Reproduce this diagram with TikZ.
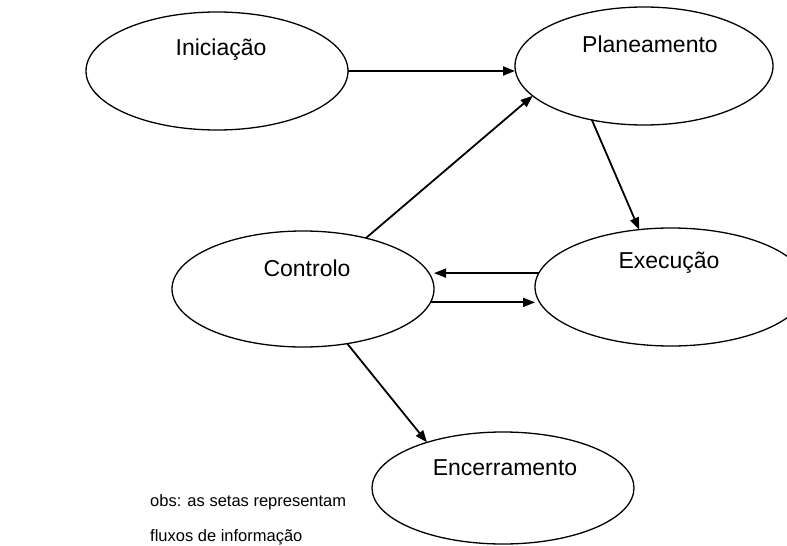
\documentclass[tikz,border=0pt]{standalone}
\usepackage{fontspec}
\setmainfont{Liberation Sans}
\usetikzlibrary{arrows.meta,shapes.geometric}
\begin{document}
\begin{tikzpicture}[x=1pt,y=-1pt,
  phase/.style={draw=black,line width=1.3pt,ellipse,inner sep=0pt,outer sep=0pt},
  lbl/.style={font=\fontsize{23}{27}\selectfont,inner sep=0pt,anchor=center},
  flow/.style={line width=1.8pt,-{Triangle[length=12pt,width=9pt]}},
  note/.style={font=\fontsize{16.5}{19}\selectfont,inner sep=0pt,anchor=base west}]
\useasboundingbox (0,0) rectangle (787,546);
\clip (0,0) rectangle (787,546);
\node[phase,minimum width=262pt,minimum height=118pt] (ini) at (217,71) {};
\node[phase,minimum width=258pt,minimum height=118pt] (plan) at (644,66) {};
\node[phase,minimum width=262pt,minimum height=116pt] (ctrl) at (303,289) {};
\node[phase,minimum width=272pt,minimum height=118pt] (exe) at (671,287) {};
\node[phase,minimum width=262pt,minimum height=112pt] (enc) at (503,488) {};
\node[lbl] (tini) at (221,50) {Iniciação};
\node[lbl] (tplan) at (650,44) {Planeamento};
\node[lbl] (tctrl) at (307,268) {Controlo};
\node[lbl] (texe) at (669,263) {Execução};
\node[lbl] (tenc) at (505,468) {Encerramento};
\node[note] (obs1) at (150,506) {obs: as setas representam};
\node[note] (obs2) at (150,541) {fluxos de informação};
\draw[flow] (ini.east) -- (ini.east -| plan.west);
\draw[flow] (ctrl.39) -- (plan.195);
\draw[flow] (plan.226) -- (exe.119);
\draw[flow] (exe.174) -- (exe.174 -| ctrl.east);
\draw[flow] (ctrl.-6) -- (ctrl.-6 -| exe.west);
\draw[flow] (ctrl.-51) -- (enc.149);
\end{tikzpicture}
\end{document}
